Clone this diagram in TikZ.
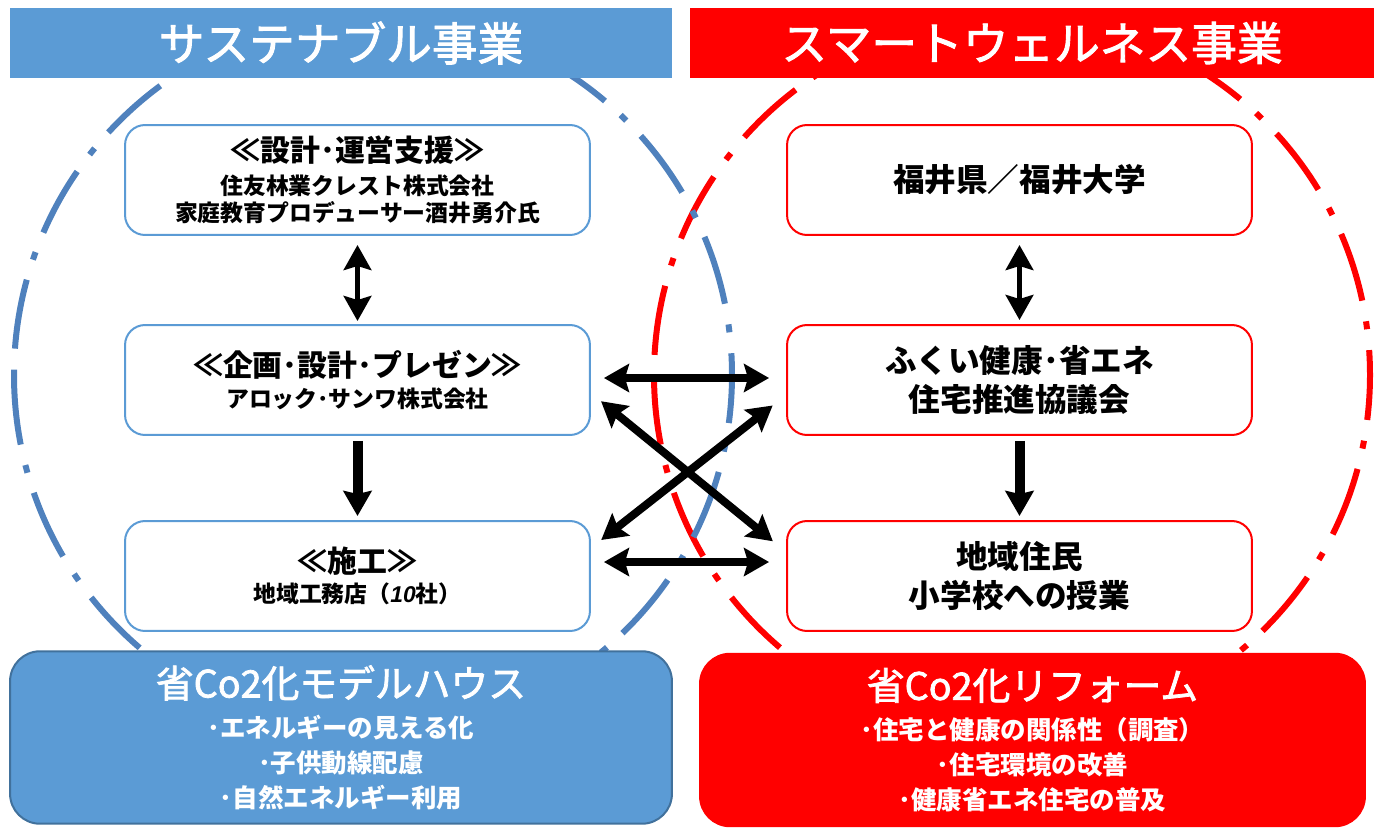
\documentclass[tikz,border=0pt]{standalone}
\usepackage{fontspec}
\setmainfont{Noto Sans CJK JP}
\newfontfamily\headfont{Noto Sans CJK JP}[FakeBold=2]
\newfontfamily\latinfont{Liberation Sans}
\usetikzlibrary{arrows.meta}
\definecolor{skyblue}{HTML}{5B9BD5}
\definecolor{ringblue}{HTML}{4F81BD}
\definecolor{edgeblue}{HTML}{41719C}
\definecolor{brightred}{HTML}{FF0000}

\begin{document}
\begin{tikzpicture}
[x=0.02cm,y=-0.02cm
,bar/.style={minimum height=1.4cm,inner sep=0pt,text=white,font=\headfont\fontsize{26}{30}\selectfont}
,bx/.style={draw=#1,fill=white,line width=0.04cm,rounded corners=0.4cm,minimum width=9.3cm,minimum height=2.2cm,align=center,inner sep=0pt}
,lbox/.style={bx=skyblue,font=\bfseries\fontsize{13}{15.5}\selectfont}
,rbox/.style={bx=brightred,font=\bfseries\fontsize{18}{22.7}\selectfont}
,sumbox/.style={draw=#1,line width=0.04cm,rounded corners=0.6cm,minimum height=3.45cm,align=center,inner sep=0pt,text=white,font=\bfseries\fontsize{14.5}{19.8}\selectfont}
,ring/.style={line width=0.12cm,dash pattern=on 1.4cm off 0.42cm on 0.16cm off 0.42cm}
,dbl/.style={line width=0.1cm,arrows={Stealth[length=0.5cm,width=0.55cm,inset=0.08cm]-Stealth[length=0.5cm,width=0.55cm,inset=0.08cm]}}
,one/.style={line width=0.2cm,arrows={-Stealth[length=0.5cm,width=0.56cm,inset=0.06cm]}}
,xa/.style={line width=0.16cm,arrows={Stealth[length=0.5cm,width=0.56cm,inset=0.08cm]-Stealth[length=0.5cm,width=0.56cm,inset=0.08cm]},shorten <=0.26cm,shorten >=0.34cm}
]
\useasboundingbox (0,0) rectangle (1383,829);
% the two circles
\draw[ring,brightred] (1012,375) ++(180:358) arc (180:-180:358);
\draw[ring,ringblue] (373,375) ++(180:359) arc (180:-180:359);
% titles
\node[bar,fill=skyblue,minimum width=13.24cm] (sbar) at (341,43) {サステナブル事業};
\node[bar,fill=brightred,minimum width=13.68cm] (wbar) at (1032,43) {スマートウェルネス事業};
% left column
\node[lbox] (lb1) at (357.5,180) {{\fontsize{17}{19}\selectfont ≪設計･運営支援≫}\\[3pt]住友林業クレスト株式会社\\家庭教育プロデューサー酒井勇介氏};
\node[lbox] (lb2) at (357.5,380) {{\fontsize{17}{19}\selectfont ≪企画･設計･プレゼン≫}\\[2pt]アロック･サンワ株式会社};
\node[lbox] (lb3) at (357.5,576) {{\fontsize{17}{19}\selectfont ≪施工≫}\\[2pt]地域工務店（{\latinfont\bfseries\itshape 10}社）};
% right column
\node[rbox] (rb1) at (1019.5,180) {福井県／福井大学};
\node[rbox] (rb2) at (1019.5,380) {ふくい健康･省エネ\\住宅推進協議会};
\node[rbox] (rb3) at (1019.5,576) {地域住民\\小学校への授業};
% results
\node[sumbox=edgeblue,fill=skyblue,minimum width=13.24cm] (lsum) at (341,737.5) {{\headfont\mdseries\fontsize{21.5}{24}\selectfont 省Co2化モデルハウス}\\[3pt]･エネルギーの見える化\\･子供動線配慮\\･自然エネルギー利用};
\node[sumbox=brightred,fill=brightred,minimum width=13.3cm] (rsum) at (1032.5,740) {{\headfont\mdseries\fontsize{21.5}{24}\selectfont 省Co2化リフォーム}\\[3pt]･住宅と健康の関係性（調査）\\･住宅環境の改善\\･健康省エネ住宅の普及};
% flow inside each column
\draw[dbl,shorten <=0.18cm,shorten >=0.06cm] (lb1) -- (lb2);
\draw[one,shorten <=0.1cm,shorten >=0.08cm] (lb2) -- (lb3);
\draw[dbl,shorten <=0.18cm,shorten >=0.08cm] (rb1) -- (rb2);
\draw[one,shorten <=0.1cm,shorten >=0.08cm] (rb2) -- (rb3);
% links between the columns
\draw[xa] ([yshift=0.04cm]lb2.east) -- ([yshift=0.04cm]rb2.west);
\draw[xa] ([yshift=0.28cm]lb3.east) -- ([yshift=0.28cm]rb3.west);
\draw[xa] ([yshift=-0.26cm]lb2.east) -- ([yshift=0.48cm]rb3.west);
\draw[xa] ([yshift=0.56cm]lb3.east) -- ([yshift=-0.3cm]rb2.west);
\end{tikzpicture}
\end{document}
